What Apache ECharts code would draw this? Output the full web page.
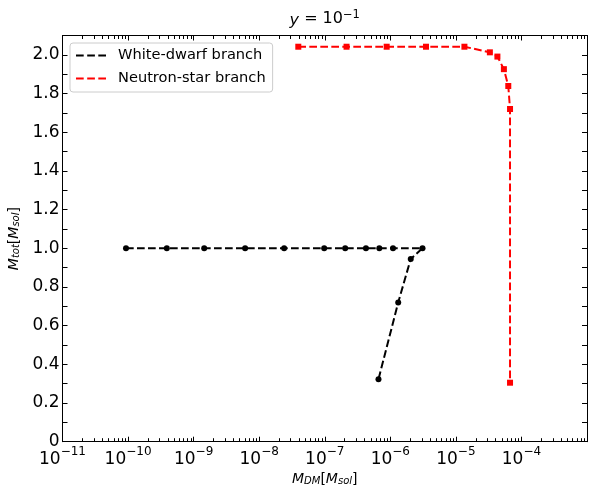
<!DOCTYPE html>
<html>
<head>
<meta charset="utf-8">
<script src="https://cdn.jsdelivr.net/npm/echarts@6/dist/echarts.min.js"></script>
<style>
  html, body { margin: 0; padding: 0; background: #fff; }
  #chart { width: 589px; height: 487px; }
</style>
</head>
<body>
<div id="chart"></div>
<script>
// white-dwarf branch (black circles)
const wdMass = [9.3e-11, 3.9e-10, 1.45e-9, 6.1e-9, 2.4e-8, 9.8e-8, 2.05e-7, 4.25e-7, 6.8e-7, 1.1e-6, 3.1e-6, 2.05e-6, 1.32e-6, 6.6e-7];
const wdTotal = [1.0, 1.0, 1.0, 1.0, 1.0, 1.0, 1.0, 1.0, 1.0, 1.0, 1.0, 0.945, 0.72, 0.323];

// neutron-star branch (red squares)
const nsMass = [3.95e-8, 2.15e-7, 8.8e-7, 3.5e-6, 1.35e-5, 3.3e-5, 4.3e-5, 5.4e-5, 6.3e-5, 6.7e-5, 6.7e-5];
const nsTotal = [2.042, 2.042, 2.042, 2.042, 2.042, 2.013, 1.991, 1.926, 1.839, 1.72, 0.305];

const xMin = 1e-11;
const xMax = 1e-3;
const yMin = 0;
const yMax = 2.1;

const FONT = "DejaVu Sans";
const dash = [7.7, 3.3];

function pairs(xs, ys) {
  return xs.map((x, i) => [x, ys[i]]);
}

function powLabel(value) {
  // the right edge (1e-3) carries no label in the original
  if (value > xMax * 0.5) return "";
  const e = Math.round(Math.log10(value));
  return "{b|10}{s|" + (e < 0 ? "\u2212" + (-e) : e) + "}";
}

const chart = echarts.init(document.getElementById("chart"), null, { renderer: "canvas" });

const tickInside = { show: true, inside: true, length: 5, lineStyle: { color: "#000", width: 1 } };
const axisLine = { show: true, onZero: false, lineStyle: { color: "#000", width: 1 } };

const nameRich = {
  i: { fontFamily: FONT, fontStyle: "italic", fontSize: 14, color: "#000", verticalAlign: "bottom", lineHeight: 18 },
  sub: { fontFamily: FONT, fontStyle: "italic", fontSize: 10, color: "#000", verticalAlign: "bottom", lineHeight: 14 },
  n: { fontFamily: FONT, fontSize: 14, color: "#000", verticalAlign: "bottom", lineHeight: 18 }
};

chart.setOption({
  animation: false,
  backgroundColor: "#fff",
  grid: { left: 62.5, right: 2, top: 35.5, bottom: 45.3, containLabel: false, outerBoundsMode: "none" },
  legend: {
    orient: "vertical",
    left: 70,
    top: 43,
    padding: [4, 7, 5, 6],
    itemGap: 6,
    itemWidth: 30,
    itemHeight: 2,
    selectedMode: false,
    backgroundColor: "rgba(255,255,255,0.8)",
    borderColor: "#cccccc",
    borderWidth: 1,
    borderRadius: 3,
    textStyle: { fontFamily: FONT, fontSize: 14.6, color: "#000", padding: [0, 0, 0, 7], lineHeight: 17 },
    data: [
      { name: "White-dwarf branch", icon: "path://M0,0h7.7v2h-7.7z M11.2,0h7.7v2h-7.7z M22.3,0h7.7v2h-7.7z", itemStyle: { color: "#000" } },
      { name: "Neutron-star branch", icon: "path://M0,0h7.7v2h-7.7z M11.2,0h7.7v2h-7.7z M22.3,0h7.7v2h-7.7z", itemStyle: { color: "#ff0000" } }
    ]
  },
  xAxis: [
    {
      type: "log",
      logBase: 10,
      min: xMin,
      max: xMax,
      splitNumber: 8,
      position: "bottom",
      axisLine: axisLine,
      axisTick: tickInside,
      splitLine: { show: false },
      axisLabel: {
        margin: 4,
        formatter: powLabel,
        rich: {
          b: { fontFamily: FONT, fontSize: 17, color: "#000", verticalAlign: "bottom", lineHeight: 22 },
          s: { fontFamily: FONT, fontSize: 12, color: "#000", verticalAlign: "top", lineHeight: 22 }
        }
      },
      name: "{i|M}{sub|DM}{n|[}{i|M}{sub|sol}{n|]}",
      nameLocation: "middle",
      nameGap: 26,
      nameTextStyle: { rich: nameRich }
    },
    {
      type: "log",
      logBase: 10,
      min: xMin,
      max: xMax,
      splitNumber: 8,
      position: "top",
      axisLine: axisLine,
      axisTick: tickInside,
      splitLine: { show: false },
      axisLabel: { show: false }
    }
  ],
  yAxis: [
    {
      type: "value",
      min: yMin,
      max: yMax,
      interval: 0.2,
      position: "left",
      axisLine: axisLine,
      axisTick: tickInside,
      minorTick: { show: true, splitNumber: 2, length: 5, lineStyle: { color: "#000", width: 1 } },
      splitLine: { show: false },
      axisLabel: {
        margin: 3,
        showMaxLabel: false,
        fontFamily: FONT,
        fontSize: 17,
        color: "#000",
        formatter: (v) => (v === 0 ? "0" : v.toFixed(1))
      },
      name: "{i|M}{sub|tot}{n|[}{i|M}{sub|sol}{n|]}",
      nameLocation: "middle",
      nameGap: 35,
      nameTextStyle: { rich: nameRich }
    },
    {
      type: "value",
      min: yMin,
      max: yMax,
      interval: 0.2,
      position: "right",
      axisLine: axisLine,
      axisTick: tickInside,
      minorTick: { show: true, splitNumber: 2, length: 5, lineStyle: { color: "#000", width: 1 } },
      splitLine: { show: false },
      axisLabel: { show: false }
    }
  ],
  series: [
    {
      name: "White-dwarf branch",
      type: "line",
      data: pairs(wdMass, wdTotal),
      symbol: "circle",
      symbolSize: 6,
      color: "#000",
      itemStyle: { color: "#000" },
      lineStyle: { color: "#000", width: 2, type: dash },
      z: 3
    },
    {
      name: "Neutron-star branch",
      type: "line",
      data: pairs(nsMass, nsTotal),
      symbol: "rect",
      symbolSize: 6,
      color: "#ff0000",
      itemStyle: { color: "#ff0000" },
      lineStyle: { color: "#ff0000", width: 2, type: dash },
      z: 4
    }
  ]
});

// minor ticks at 2..9 x 10^k on the log axes (bottom and top), pointing inward
const yBottom = chart.convertToPixel({ yAxisIndex: 0 }, yMin);
const yTop = chart.convertToPixel({ yAxisIndex: 0 }, yMax);
const minorLen = 3.5;
const minorTicks = [];
for (let e = -11; e < -3; e++) {
  for (let m = 2; m <= 9; m++) {
    const px = Math.round(chart.convertToPixel({ xAxisIndex: 0 }, m * Math.pow(10, e))) + 0.5;
    minorTicks.push({ type: "line", shape: { x1: px, y1: yBottom, x2: px, y2: yBottom - minorLen }, style: { stroke: "#000", lineWidth: 1 } });
    minorTicks.push({ type: "line", shape: { x1: px, y1: yTop, x2: px, y2: yTop + minorLen }, style: { stroke: "#000", lineWidth: 1 } });
  }
}

const plotCenter = (chart.convertToPixel({ xAxisIndex: 0 }, xMin) + chart.convertToPixel({ xAxisIndex: 0 }, xMax)) / 2;

chart.setOption({
  graphic: [
    { type: "group", silent: true, children: minorTicks },
    {
      type: "text",
      x: plotCenter,
      y: 19,
      silent: true,
      style: {
        text: "{i|y} = 10{s|\u22121}",
        align: "center",
        verticalAlign: "middle",
        fontFamily: FONT,
        fontSize: 16,
        fill: "#000",
        rich: {
          i: { fontFamily: FONT, fontStyle: "italic", fontSize: 16, verticalAlign: "bottom", lineHeight: 20 },
          s: { fontFamily: FONT, fontSize: 11.5, verticalAlign: "top", lineHeight: 20 }
        }
      }
    }
  ]
});
</script>
</body>
</html>
